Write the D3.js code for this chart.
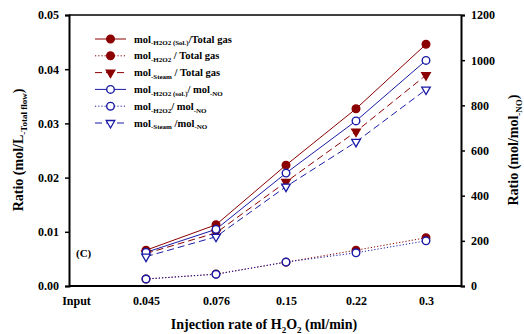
<!DOCTYPE html>
<html>
<head>
<meta charset="utf-8">
<script src="https://cdn.jsdelivr.net/npm/d3@7"></script>
<style>
  body { margin: 0; background: #fff; }
  svg text { font-family: "Liberation Serif", "DejaVu Serif", "Times New Roman", serif !important; font-weight: bold; }
</style>
</head>
<body>
<div id="canvas"></div>
<script>
"use strict"

let svgWidth = 524
let svgHeight = 334
let plotLeft = 69, plotRight = 461, plotTop = 15, plotBottom = 286
let serifFont = "'Liberation Serif', 'DejaVu Serif', serif"

/* data */
let categories = ["Input", "0.045", "0.076", "0.15", "0.22", "0.3"]
let rates = ["0.045", "0.076", "0.15", "0.22", "0.3"]
let leftTicks = [0, 0.01, 0.02, 0.03, 0.04, 0.05]
let rightTicks = [0, 200, 400, 600, 800, 1000, 1200]

let solGas = [0.0066, 0.0113, 0.0223, 0.0327, 0.0446]
let h2o2Gas = [0.0013, 0.0022, 0.0044, 0.0066, 0.0089]
let steamGas = [0.0060, 0.0098, 0.0192, 0.0285, 0.0389]
let solNO = [149, 251, 500, 731, 999]
let h2o2NO = [31, 52, 106, 147, 200]
let steamNO = [130, 218, 440, 638, 870]

let red = "#8b0000"
let blue = "#1a1aa6"

let svg = d3.select("#canvas")
    .append("svg")
    .attr("width", svgWidth)
    .attr("height", svgHeight)
    .attr("font-family", serifFont)

/* scales */
let xScale = d3.scalePoint()
    .domain(categories)
    .range([76, 426])

let yLeft = d3.scaleLinear()
    .domain([0, 0.05])
    .range([plotBottom, plotTop])

let yRight = d3.scaleLinear()
    .domain([0, 1200])
    .range([plotBottom, plotTop])

/* series: values, axis, colour, line style, marker */
let series = [
    {values: solGas, scale: yLeft, color: red, dash: null, marker: "circle", fill: true},
    {values: h2o2Gas, scale: yLeft, color: red, dash: "1.2,2", marker: "circle", fill: true},
    {values: steamGas, scale: yLeft, color: red, dash: "7,4", marker: "tri", fill: true},
    {values: solNO, scale: yRight, color: blue, dash: null, marker: "circle", fill: false},
    {values: h2o2NO, scale: yRight, color: blue, dash: "1.2,2", marker: "circle", fill: false},
    {values: steamNO, scale: yRight, color: blue, dash: "7,4", marker: "tri", fill: false}
]

function drawMarker(g, kind, x, y, color, filled) {
    if (kind === "circle") {
        g.append("circle")
            .attr("cx", x).attr("cy", y).attr("r", 3.8)
            .attr("fill", filled ? color : "white")
            .attr("stroke", color)
            .attr("stroke-width", 1.4)
    } else {
        g.append("path")
            .attr("d", d3.symbol(d3.symbolTriangle, 32)())
            .attr("transform", "translate(" + x + "," + y + ") rotate(180)")
            .attr("fill", filled ? color : "white")
            .attr("stroke", color)
            .attr("stroke-width", 1.3)
    }
}

let plot = svg.append("g")

series.forEach(function(s) {
    let pts = rates.map(function(r, i) { return [xScale(r), s.scale(s.values[i])] })
    plot.append("path")
        .attr("d", d3.line()(pts))
        .attr("fill", "none")
        .attr("stroke", s.color)
        .attr("stroke-width", 1)
        .attr("stroke-dasharray", s.dash)
})

series.forEach(function(s) {
    rates.forEach(function(r, i) {
        drawMarker(plot, s.marker, xScale(r), s.scale(s.values[i]), s.color, s.fill)
    })
})

/* frame */
svg.append("line")
    .attr("x1", plotLeft).attr("x2", plotRight).attr("y1", plotTop).attr("y2", plotTop)
    .attr("stroke", "black").attr("stroke-width", 1.5)

/* axes */
svg.append("g")
    .attr("transform", "translate(" + plotLeft + ",0)")
    .call(d3.axisLeft(yLeft).tickValues(leftTicks).tickFormat(d3.format(".2f")).tickSize(4).tickPadding(6))

svg.append("g")
    .attr("transform", "translate(" + plotRight + ",0)")
    .call(d3.axisRight(yRight).tickValues(rightTicks).tickFormat(d3.format("d")).tickSize(4).tickPadding(6))

let axisBottom = svg.append("g")
    .attr("transform", "translate(0," + plotBottom + ")")
    .call(d3.axisBottom(xScale).tickSize(0).tickPadding(10))

axisBottom.select(".domain").attr("d", "M" + plotLeft + ",0H" + plotRight)

svg.selectAll("g").attr("font-family", serifFont)
svg.selectAll(".domain").attr("stroke", "black").attr("stroke-width", 2)
svg.selectAll(".tick line").attr("stroke", "black").attr("stroke-width", 1.5)
svg.selectAll(".tick text")
    .attr("font-weight", "bold")
    .attr("font-size", 12)
    .attr("fill", "black")

/* text with subscripts: parts are [text, isSub] */
function addRich(g, x, y, parts, mainSize, subSize, anchor, transform) {
    let t = g.append("text")
        .attr("x", x).attr("y", y)
        .attr("text-anchor", anchor || "start")
        .attr("font-size", mainSize)
    if (transform) t.attr("transform", transform)
    let shifted = false
    parts.forEach(function(p) {
        let ts = t.append("tspan").text(p[0])
        if (p[1]) {
            ts.attr("font-size", subSize)
            if (!shifted) { ts.attr("dy", mainSize * 0.28); shifted = true }
        } else {
            ts.attr("font-size", mainSize)
            if (shifted) { ts.attr("dy", -mainSize * 0.28); shifted = false }
        }
    })
    return t
}

/* axis titles */
addRich(svg, 0, 0, [["Ratio (mol/L", false], ["-Total flow", true], [")", false]], 14, 9, "middle",
    "translate(23,150) rotate(-90)")

addRich(svg, 0, 0, [["Ratio (mol/mol", false], ["-NO", true], [")", false]], 14, 9, "middle",
    "translate(518,150) rotate(-90)")

addRich(svg, 264, 329, [["Injection rate of H", false], ["2", true], ["O", false], ["2", true], [" (ml/min)", false]], 14, 9, "middle")

/* panel label */
svg.append("text")
    .attr("x", 76).attr("y", 257)
    .attr("font-size", 11)
    .text("(C)")

/* legend */
let legendLabels = [
    [["mol", false], ["-H2O2 (Sol.)", true], ["/Total gas", false]],
    [["mol", false], ["-H2O2", true], [" / Total gas", false]],
    [["mol", false], ["-Steam", true], [" / Total gas", false]],
    [["mol", false], ["-H2O2 (sol.)", true], ["/ mol", false], ["-NO", true]],
    [["mol", false], ["-H2O2", true], ["/ mol", false], ["-NO", true]],
    [["mol", false], ["-Steam", true], [" /mol", false], ["-NO", true]]
]

let legend = svg.append("g")
series.forEach(function(s, i) {
    let y = 39 + i * 16.8
    legend.append("line")
        .attr("x1", 95).attr("x2", 126).attr("y1", y).attr("y2", y)
        .attr("stroke", s.color).attr("stroke-width", 1)
        .attr("stroke-dasharray", s.dash)
    drawMarker(legend, s.marker, 110.5, y, s.color, s.fill)
    addRich(legend, 134, y + 3.5, legendLabels[i], 10.5, 7, "start")
})
</script>
</body>
</html>
